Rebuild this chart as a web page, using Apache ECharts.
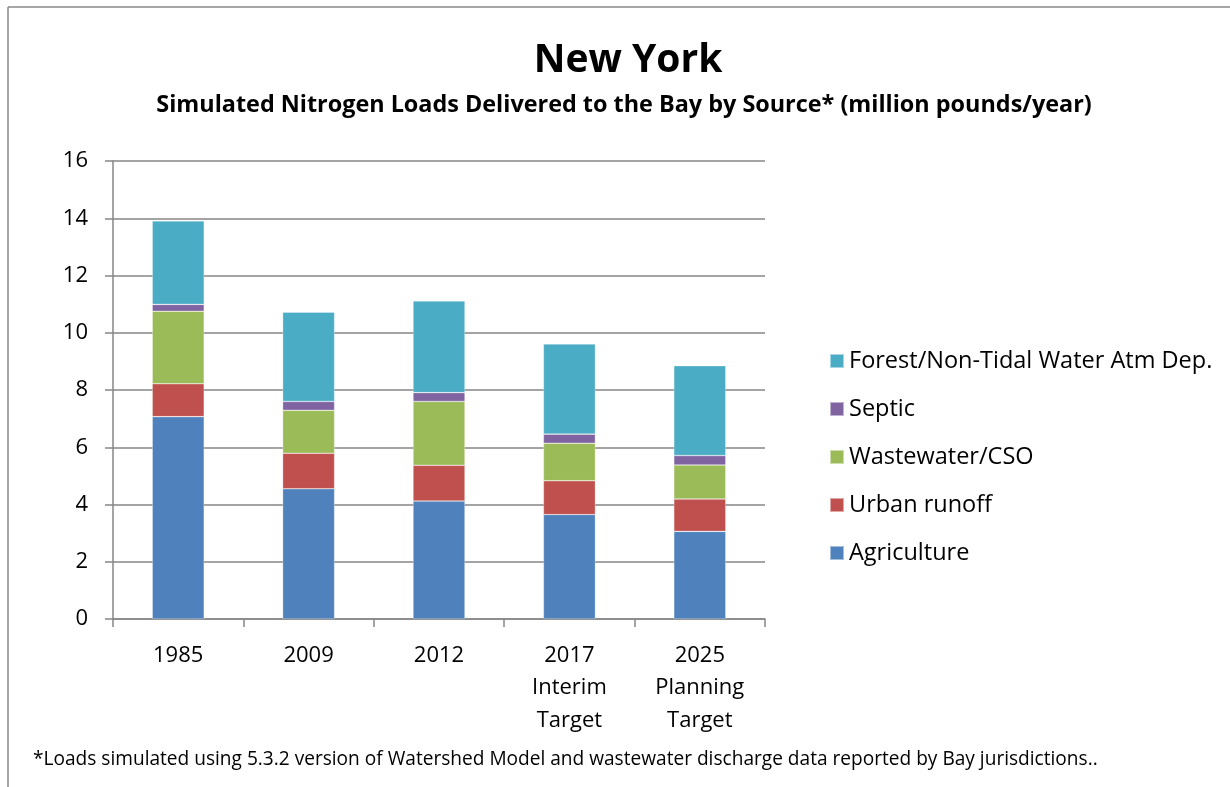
<!DOCTYPE html>
<html>
<head>
<meta charset="utf-8">
<script src="https://cdn.jsdelivr.net/npm/echarts@6/dist/echarts.min.js"></script>
<style>
html,body{margin:0;padding:0;background:#fff;}
#chart{width:1230px;height:787px;}
</style>
</head>
<body>
<div id="chart"></div>
<script>
const categories = ['1985', '2009', '2012', '2017\nInterim\nTarget', '2025\nPlanning\nTarget'];
const agriculture = [7.07, 4.55, 4.12, 3.65, 3.06];
const urbanRunoff = [1.15, 1.24, 1.25, 1.18, 1.13];
const wastewater = [2.53, 1.50, 2.23, 1.31, 1.19];
const septic = [0.24, 0.31, 0.31, 0.32, 0.33];
const forest = [2.92, 3.12, 3.20, 3.15, 3.14];
const seriesNames = ['Agriculture', 'Urban runoff', 'Wastewater/CSO', 'Septic', 'Forest/Non-Tidal Water Atm Dep.'];
const seriesColors = ['#4F81BD', '#C0504D', '#9BBB59', '#8064A2', '#4BACC6'];
const seriesData = [agriculture, urbanRunoff, wastewater, septic, forest];
const yTicks = { min: 0, max: 16, interval: 2 };

const FONT = '"Open Sans", Lato, sans-serif';
const chart = echarts.init(document.getElementById('chart'));
chart.setOption({
  backgroundColor: '#fff',
  animation: false,
  textStyle: { fontFamily: FONT },
  title: [
    { text: 'New York', left: 623, textAlign: 'center', top: 36,
      textStyle: { fontSize: 39, fontWeight: 'bold', color: '#000', fontFamily: FONT } },
    { text: 'Simulated Nitrogen Loads Delivered to the Bay by Source* (million pounds/year)', left: 619, textAlign: 'center', top: 89,
      textStyle: { fontSize: 23.4, fontWeight: 'bold', color: '#000', fontFamily: FONT } }
  ],
  grid: { left: 113, right: 465, top: 161, bottom: 168, containLabel: false },
  legend: {
    orient: 'vertical', left: 824, top: 344,
    itemWidth: 14, itemHeight: 14, itemGap: 24,
    icon: 'rect',
    data: seriesNames.slice().reverse(),
    textStyle: { fontSize: 23.5, color: '#000', fontFamily: FONT, lineHeight: 22, padding: [0, 0, 0, 0] }
  },
  xAxis: {
    type: 'category', data: categories,
    axisLine: { lineStyle: { color: '#868686', width: 1.5 } },
    axisTick: { show: true, length: 8, lineStyle: { color: '#868686', width: 1.5 } },
    axisLabel: { fontSize: 22, color: '#000', lineHeight: 32.5, margin: 20, fontFamily: FONT, interval: 0 }
  },
  yAxis: {
    type: 'value', min: yTicks.min, max: yTicks.max, interval: yTicks.interval,
    axisLine: { show: true, lineStyle: { color: '#868686', width: 1.5 } },
    axisTick: { show: true, length: 8, lineStyle: { color: '#868686', width: 1.5 } },
    splitLine: { lineStyle: { color: '#868686', width: 1.5 } },
    axisLabel: { fontSize: 22, color: '#000', margin: 25, fontFamily: FONT }
  },
  series: seriesNames.map((n, i) => ({
    name: n, type: 'bar', stack: 'total', data: seriesData[i], barWidth: 52,
    itemStyle: { color: seriesColors[i], borderColor: 'rgba(255,255,255,0.5)', borderWidth: 0.6 }
  })),
  graphic: [
    { type: 'line', shape: { x1: 8, y1: 7, x2: 1230, y2: 7 }, style: { stroke: '#888', lineWidth: 1.5 } },
    { type: 'line', shape: { x1: 8, y1: 7, x2: 8, y2: 787 }, style: { stroke: '#888', lineWidth: 1.5 } },
    { type: 'text', left: 33, top: 750,
      style: { text: '*Loads simulated using 5.3.2 version of Watershed Model and wastewater discharge data reported by Bay jurisdictions..',
        fontSize: 19.1, fill: '#000', fontFamily: FONT } }
  ]
});
</script>
</body>
</html>
